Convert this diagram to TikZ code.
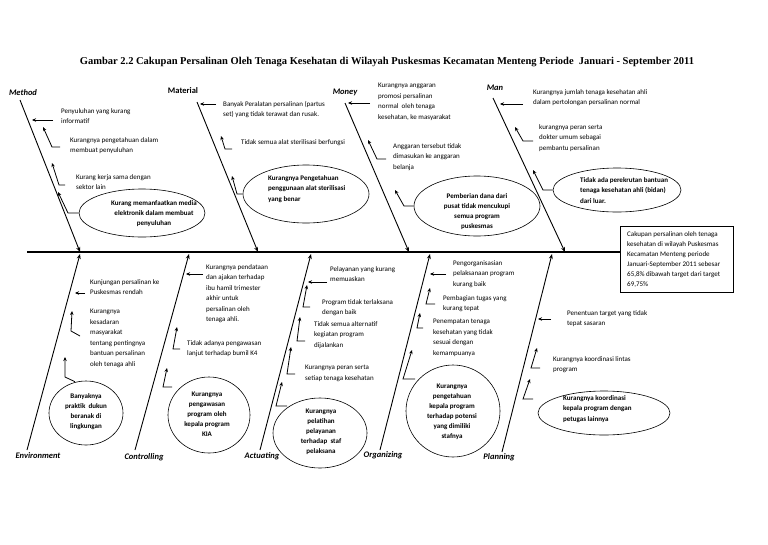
\documentclass[tikz,border=0pt]{standalone}
\usepackage{fontspec}
\setmainfont{Carlito}
\newfontfamily\titlefont{Liberation Serif}
\usetikzlibrary{arrows.meta,shapes.geometric}
\begin{document}
\begin{tikzpicture}[x=1pt,y=-1pt,
  txt/.style={font=\fontsize{7}{10.5}\selectfont, align=left, inner sep=0pt, anchor=north west},
  ctxt/.style={font=\fontsize{7}{10}\selectfont\bfseries, align=center, inner sep=0pt},
  ltxt/.style={font=\fontsize{7}{10.5}\selectfont\bfseries, align=left, inner sep=0pt, anchor=north west},
  lab/.style={font=\fontsize{8.5}{10}\selectfont\bfseries\itshape, inner sep=0pt},
  bone/.style={line width=0.9pt, -{Stealth[length=5pt,width=4pt]}},
  sub/.style={line width=0.8pt, -{Stealth[length=4pt,width=3.5pt]}},
  ell/.style={draw, ellipse, line width=0.6pt, inner sep=0pt},
]
\useasboundingbox[fill=white] (0,0) rectangle (768,544);

% title
\node[font=\titlefont\bfseries\fontsize{10.5}{12}\selectfont, inner sep=0pt] (title) at (387,62)
  {Gambar 2.2 Cakupan Persalinan Oleh Tenaga Kesehatan di Wilayah Puskesmas Kecamatan Menteng Periode \ Januari - September 2011};

% spine and result box
\coordinate (spL) at (27,252);
\node[draw, line width=0.8pt, minimum width=113pt, minimum height=66pt, anchor=north west, inner sep=0pt] (box) at (620,226) {};
\node[txt, font=\fontsize{7}{10}\selectfont] (boxt) at (627,231)
  {Cakupan persalinan oleh tenaga\\kesehatan di wilayah Puskesmas\\Kecamatan Menteng periode\\Januari-September 2011 sebesar\\65,8\%  dibawah target dari target\\69,75\%};
\draw[line width=1.2pt] (spL) -- (spL -| box.west);

% ---------- bones ----------
\coordinate (meT) at (20,100);  \coordinate (meB) at (80,252);
\coordinate (maT) at (197,102); \coordinate (maB) at (258,252);
\coordinate (moT) at (345,103); \coordinate (moB) at (409,252);
\coordinate (mnT) at (493,98);  \coordinate (mnB) at (565,252);
\draw[bone] (meT) -- (meB);
\draw[bone] (maT) -- (maB);
\draw[bone] (moT) -- (moB);
\draw[bone] (mnT) -- (mnB);

\coordinate (enB) at (27,450);  \coordinate (enT) at (80,254);
\coordinate (coB) at (135,450); \coordinate (coT) at (189,254);
\coordinate (acB) at (260,450); \coordinate (acT) at (311,254);
\coordinate (orB) at (380,450); \coordinate (orT) at (430,254);
\coordinate (plB) at (502,452); \coordinate (plT) at (552,254);
\draw[bone] (enB) -- (enT);
\draw[bone] (coB) -- (coT);
\draw[bone] (acB) -- (acT);
\draw[bone] (orB) -- (orT);
\draw[bone] (plB) -- (plT);

% labels
\node[lab] (lMethod) at (23,93) {Method};
\node[lab, font=\fontsize{8.5}{10}\selectfont\bfseries] (lMaterial) at (183,91) {Material};
\node[lab] (lMoney) at (345,92) {Money};
\node[lab] (lMan) at (495,88) {Man};
\node[lab] (lEnv) at (38,456) {Environment};
\node[lab] (lCtrl) at (144,457) {Controlling};
\node[lab] (lAct) at (262,456) {Actuating};
\node[lab] (lOrg) at (383,455) {Organizing};
\node[lab] (lPlan) at (499,457) {Planning};

% ---------- Method ----------
\node[txt] (t11) at (61,108) {Penyuluhan yang kurang\\informatif};
\node[txt] (t12) at (70,137) {Kurangnya pengetahuan dalam\\membuat penyuluhan};
\node[txt] (t13) at (76,174) {Kurang kerja sama dengan\\sektor lain};
\node[ell, minimum width=126pt, minimum height=48pt] (e1) at (142,213) {};
\node[ctxt] (e1t) at (154,214) {Kurang memanfaatkan media\\elektronik dalam membuat\\penyuluhan};
\draw[sub] (e1.west) -- (68,213) -- (58,192);
\draw[sub] (53,120) -- (32,120);
\draw[sub] (60,147) -- (52,147) -- (43,127);
\draw[sub] (65,185) -- (59,185) -- (52,163);

% ---------- Material ----------
\node[txt] (t21) at (223,101) {Banyak Peralatan persalinan (partus\\set) yang tidak terawat dan rusak.};
\node[txt] (t22) at (241,139) {Tidak semua alat sterilisasi berfungsi};
\node[ell, minimum width=126pt, minimum height=58pt] (e2) at (306,194) {};
\node[ltxt] (e2t) at (268,175) {Kurangnya Pengetahuan\\penggunaan alat sterilisasi\\yang benar};
\draw[sub] (216,104) -- (200,104);
\draw[sub] (232,149) -- (225,149) -- (221,136);
\draw[sub] (e2.west) -- (237,194) -- (232,176);

% ---------- Money ----------
\node[txt] (t31) at (378,83) {Kurangnya anggaran\\promosi persalinan\\normal \ oleh tenaga\\kesehatan, ke masyarakat};
\node[txt] (t32) at (393,143) {Anggaran tersebut tidak\\dimasukan ke anggaran\\belanja};
\node[ell, minimum width=126pt, minimum height=60pt] (e3) at (477,206) {};
\node[ctxt] (e3t) at (477,212) {Pemberian dana dari\\pusat tidak mencukupi\\semua program\\puskesmas};
\draw[sub] (370,103) -- (348,103);
\draw[sub] (386,159) -- (377,159) -- (368,140);
\draw[sub] (e3.west) -- (404,206) -- (395,190);

% ---------- Man ----------
\node[txt] (t41) at (533,89) {Kurangnya jumlah tenaga kesehatan ahli\\dalam pertolongan persalinan normal};
\node[txt] (t42) at (539,124) {kurangnya peran serta\\dokter umum sebagai\\pembantu persalinan};
\node[ell, minimum width=128pt, minimum height=44pt] (e4) at (617,190) {};
\node[ltxt] (e4t) at (580,177) {Tidak ada perekrutan bantuan\\tenaga kesehatan ahli (bidan)\\dari luar.};
\draw[sub] (523,104) -- (500,104);
\draw[sub] (533,141) -- (523,141) -- (515,127);
\draw[sub] (e4.west) -- (543,190) -- (533,170);

% ---------- Environment ----------
\node[txt] (t51) at (90,279) {Kunjungan persalinan ke\\Puskesmas rendah};
\node[txt] (t52) at (90,309) {Kurangnya\\kesadaran\\masyarakat\\tentang pentingnya\\bantuan persalinan\\oleh tenaga ahli};
\node[ell, minimum width=74pt, minimum height=64pt] (e5) at (86,413) {};
\node[ctxt] (e5t) at (86,412) {Banyaknya\\praktik \ dukun\\beranak di\\lingkungan};
\draw[sub] (85,293) -- (75,293);
\draw[sub] (80,336) -- (71,331) -- (72,311);
\draw[sub] (e5.north) ++(-11,1) -- (65,377) -- (65,357);

% ---------- Controlling ----------
\node[txt] (t61) at (206,264) {Kurangnya pendataan\\dan ajakan terhadap\\ibu hamil trimester\\akhir untuk\\persalinan oleh\\tenaga ahli.};
\node[txt] (t62) at (187,340) {Tidak adanya pengawasan\\lanjut terhadap bumil K4};
\node[ell, minimum width=82pt, minimum height=76pt] (e6) at (209,415) {};
\node[ctxt] (e6t) at (207,414) {Kurangnya\\pengawasan\\program oleh\\kepala program\\KIA};
\draw[sub] (203,274) -- (186,274);
\draw[sub] (180,349) -- (173,349) -- (177,327);
\draw[sub] (172,387) -- (163,387) -- (167,368);

% ---------- Actuating ----------
\node[txt] (t71) at (330,266) {Pelayanan yang kurang\\memuaskan};
\node[txt] (t72) at (322,299) {Program tidak terlaksana\\dengan baik};
\node[txt] (t73) at (314,321) {Tidak semua alternatif\\kegiatan program\\dijalankan};
\node[txt] (t74) at (305,365) {Kurangnya peran serta\\setiap tenaga kesehatan};
\node[ell, minimum width=94pt, minimum height=70pt] (e7) at (320,433) {};
\node[ctxt] (e7t) at (321,432) {Kurangnya\\pelatihan\\pelayanan\\terhadap \ staf\\pelaksana};
\draw[sub] (327,282) -- (308,282);
\draw[sub] (310,307) -- (303,307) -- (307,285);
\draw[sub] (305,341) -- (297,341) -- (300,317);
\draw[sub] (295,374) -- (287,374) -- (291,347);
\draw[sub] (287,406) -- (276,406) -- (282,382);

% ---------- Organizing ----------
\node[txt] (t81) at (453,260) {Pengorganisasian\\pelaksanaan program\\kurang baik};
\node[txt] (t82) at (443,295) {Pembagian tugas yang\\kurang tepat};
\node[txt] (t83) at (433,319) {Penempatan tenaga\\kesehatan yang tidak\\sesuai dengan\\kemampuanya};
\node[ell, minimum width=94pt, minimum height=92pt] (e8) at (453,411) {};
\node[ctxt] (e8t) at (452,412) {Kurangnya\\pengetahuan\\kepala program\\terhadap potensi\\yang dimiliki\\stafnya};
\draw[sub] (446,274) -- (430,274);
\draw[sub] (435,304) -- (426,304) -- (430,288);
\draw[sub] (423,328) -- (417,328) -- (420,313);
\draw[sub] (415,379) -- (403,379) -- (412,350);

% ---------- Planning ----------
\node[txt] (t91) at (567,310) {Penentuan target yang tidak\\tepat sasaran};
\node[txt] (t92) at (553,356) {Kurangnya koordinasi lintas\\program};
\node[ell, minimum width=132pt, minimum height=44pt] (e9) at (604,413) {};
\node[ltxt] (e9t) at (563,395) {Kurangnya koordinasi\\kepala program dengan\\petugas lainnya};
\draw[sub] (551,319) -- (538,319);
\draw[sub] (540,368) -- (531,368) -- (537,348);
\draw[sub] (533,399) -- (523,399) -- (530,379);
\end{tikzpicture}
\end{document}
